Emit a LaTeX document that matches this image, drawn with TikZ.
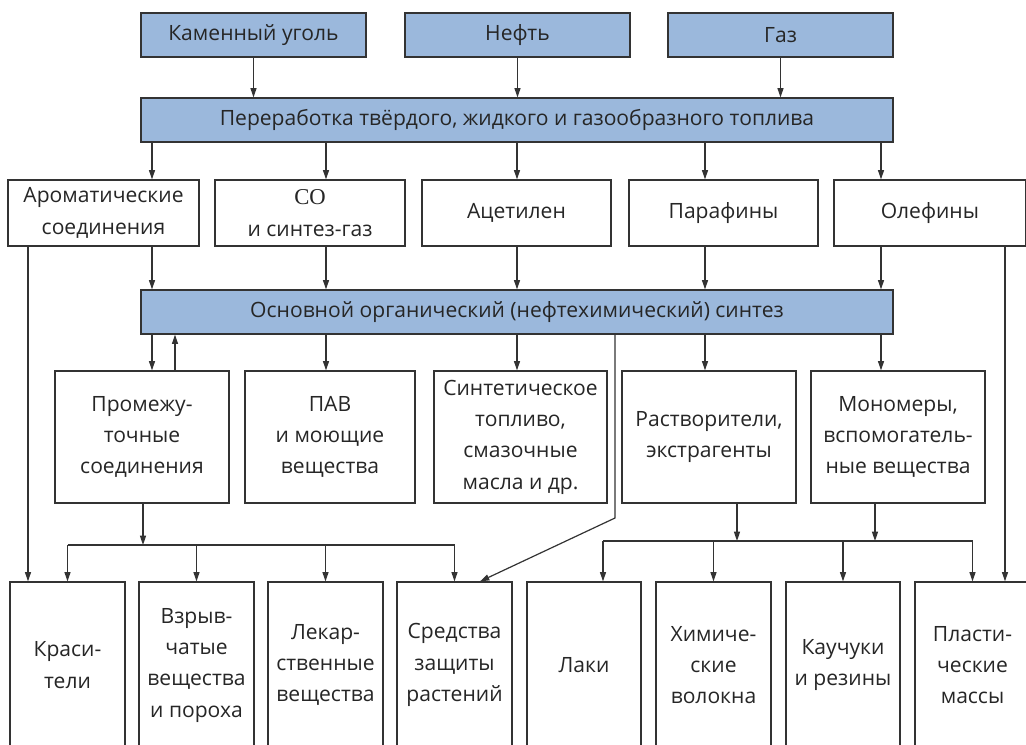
\documentclass[tikz,border=0pt]{standalone}
\usepackage{fontspec}
\setmainfont{Open Sans}
\newfontfamily\serifco{Liberation Serif}
\usetikzlibrary{arrows.meta}
\definecolor{barblue}{HTML}{9BB8DC}
\definecolor{lnc}{HTML}{333333}
\definecolor{txt}{HTML}{262626}
\tikzset{
 box/.style={draw=lnc, line width=0.9pt, fill=white, align=center, inner sep=0pt,
   font=\fontsize{15.8}{23.5}\selectfont, text=txt},
 bluebox/.style={box, fill=barblue},
 sz/.style 2 args={minimum width=#1*0.75pt, minimum height=#2*0.75pt},
 arr/.style={draw=lnc, line width=0.9pt, -{Triangle[length=7pt,width=4.5pt]}},
 wire/.style={draw=lnc, line width=0.9pt}
}
\begin{document}
\begin{tikzpicture}[x=0.75pt,y=-0.75pt]
\useasboundingbox (0,0) rectangle (1026,744);
\clip (0,0) rectangle (1026,744);
\fill[white] (0,0) rectangle (1026,744);
% top row
\node[bluebox, sz={225}{44}] (coal) at (253.5,35) {Каменный уголь};
\node[bluebox, sz={225}{44}] (oil) at (517.5,35) {Нефть};
\node[bluebox, sz={225}{44}] (gas) at (780.5,35) {Газ};
\node[bluebox, sz={752}{44}] (bar1) at (517,120) {Переработка твёрдого, жидкого и газообразного топлива};
% row 2
\node[box, sz={191}{66}] (arom) at (103.5,213) {Ароматические\\соединения};
\node[box, sz={190}{66}] (co) at (310,213) {{\serifco\fontsize{17}{23.5}\selectfont CO}\\и синтез-газ};
\node[box, sz={189}{66}] (acet) at (516.5,213) {Ацетилен};
\node[box, sz={189}{66}] (paraf) at (723.5,213) {Парафины};
\node[box, sz={192}{66}] (olef) at (930,213) {Олефины};
\node[bluebox, sz={752}{44}] (bar2) at (517,312) {Основной органический (нефтехимический) синтез};
% row 3
\node[box, sz={174}{132}] (inter) at (142,437) {Промежу-\\точные\\соединения};
\node[box, sz={170}{132}] (pav) at (330,437) {ПАВ\\и моющие\\вещества};
\node[box, sz={173}{132}] (synf) at (520.5,437) {Синтетическое\\топливо,\\смазочные\\масла и др.};
\node[box, sz={174}{132}] (solv) at (709,437) {Растворители,\\экстрагенты};
\node[box, sz={174}{132}] (mono) at (898,437) {Мономеры,\\вспомогатель-\\ные вещества};
% row 4
\node[box, sz={115}{166}] (dye) at (67.5,665) {Краси-\\тели};
\node[box, sz={115}{166}] (expl) at (196.5,665) {Взрыв-\\чатые\\вещества\\и пороха};
\node[box, sz={115}{166}] (drug) at (325.5,665) {Лекар-\\ственные\\вещества};
\node[box, sz={115}{166}] (prot) at (454.5,665) {Средства\\защиты\\растений};
\node[box, sz={114}{166}] (lac) at (584,665) {Лаки};
\node[box, sz={115}{166}] (fib) at (713.5,665) {Химиче-\\ские\\волокна};
\node[box, sz={114}{166}] (rub) at (843,665) {Каучуки\\и резины};
\node[box, sz={115}{166}] (plast) at (972.5,665) {Пласти-\\ческие\\массы};
% arrows top
\draw[arr] (coal.south) -- (coal.south |- bar1.north);
\draw[arr] (oil.south) -- (oil.south |- bar1.north);
\draw[arr] (gas.south) -- (gas.south |- bar1.north);
% bar1 -> row2
\draw[arr] (152,0 |- bar1.south) -- (152,0 |- arom.north);
\draw[arr] (326,0 |- bar1.south) -- (326,0 |- co.north);
\draw[arr] (517,0 |- bar1.south) -- (517,0 |- acet.north);
\draw[arr] (705,0 |- bar1.south) -- (705,0 |- paraf.north);
\draw[arr] (881,0 |- bar1.south) -- (881,0 |- olef.north);
% row2 -> bar2
\draw[arr] (152,0 |- arom.south) -- (152,0 |- bar2.north);
\draw[arr] (326,0 |- co.south) -- (326,0 |- bar2.north);
\draw[arr] (517,0 |- acet.south) -- (517,0 |- bar2.north);
\draw[arr] (705,0 |- paraf.south) -- (705,0 |- bar2.north);
\draw[arr] (881,0 |- olef.south) -- (881,0 |- bar2.north);
% side lines
\draw[arr] (28,0 |- arom.south) -- (28,0 |- dye.north);
\draw[arr] (1005,0 |- olef.south) -- (1005,0 |- plast.north);
% bar2 -> row3
\draw[arr] (152,0 |- bar2.south) -- (152,0 |- inter.north);
\draw[arr] (175,0 |- inter.north) -- (175,0 |- bar2.south);
\draw[arr] (326,0 |- bar2.south) -- (326,0 |- pav.north);
\draw[arr] (517,0 |- bar2.south) -- (517,0 |- synf.north);
\draw[arr] (705,0 |- bar2.south) -- (705,0 |- solv.north);
\draw[arr] (881,0 |- bar2.south) -- (881,0 |- mono.north);
% diagonal to plant protection
\draw[arr] (615,0 |- bar2.south) -- (615,518) -- (480,0 |- prot.north);
% left tree
\coordinate (lj) at (143,545);
\draw[arr] (143,0 |- inter.south) -- (lj);
\draw[wire] (dye.north |- lj) -- (prot.north |- lj);
\foreach \n in {dye,expl,drug,prot} \draw[arr] (\n.north |- lj) -- (\n.north);
% right tree
\coordinate (rj) at (737,541);
\draw[arr] (737,0 |- solv.south) -- (rj);
\draw[arr] (875,0 |- mono.south) -- (875,541);
\draw[wire] (603,541) -- (plast.north |- rj);
\draw[arr] (603,541) -- (603,0 |- lac.north);
\foreach \n in {fib,rub,plast} \draw[arr] (\n.north |- rj) -- (\n.north);
\end{tikzpicture}
\end{document}
